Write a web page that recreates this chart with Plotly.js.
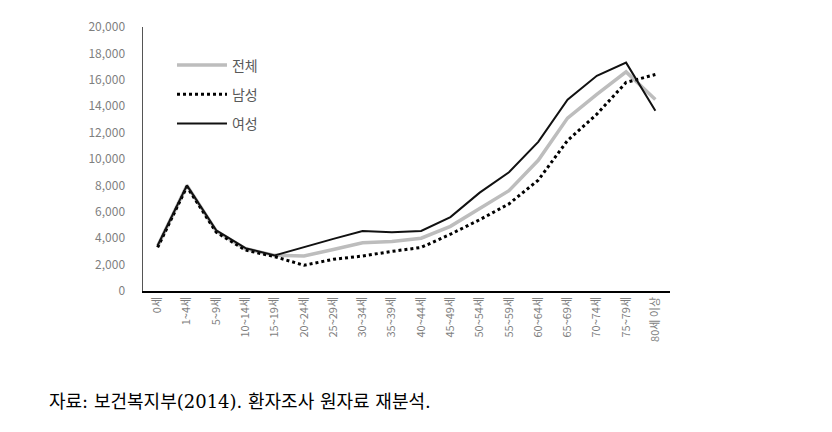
<!DOCTYPE html>
<html>
<head>
<meta charset="utf-8">
<script src="https://cdn.plot.ly/plotly-3.0.1.min.js"></script>
<style>
  body { margin: 0; background: #fff; }
  #plot { width: 832px; height: 432px; }
</style>
</head>
<body>
<div id="plot"></div>
<script>
// age groups
var ageGroups = ["0세", "1~4세", "5~9세", "10~14세", "15~19세", "20~24세", "25~29세",
  "30~34세", "35~39세", "40~44세", "45~49세", "50~54세", "55~59세", "60~64세",
  "65~69세", "70~74세", "75~79세", "80세 이상"];

// values
var totalVals = [3400, 8000, 4550, 3200, 2700, 2650, 3150, 3650, 3750, 4000,
  4900, 6250, 7600, 9900, 13100, 14900, 16600, 14500];
var maleVals = [3300, 7900, 4450, 3100, 2600, 1950, 2400, 2650, 3000, 3300,
  4300, 5400, 6600, 8400, 11400, 13400, 15800, 16400];
var femaleVals = [3450, 8000, 4600, 3250, 2700, 3350, 3950, 4550, 4450, 4550,
  5600, 7450, 9000, 11300, 14500, 16300, 17300, 13650];

var caption = "자료: 보건복지부(2014). 환자조사 원자료 재분석.";

var font = "Noto Sans CJK KR, Noto Sans, sans-serif";

var total = {
  x: ageGroups, y: totalVals, name: "전체", type: "scatter", mode: "lines",
  line: {color: "#bdbdbd", width: 3.5}, legendgroup: "a"
};
var male = {
  x: ageGroups, y: maleVals, name: "남성", type: "scatter", mode: "lines",
  line: {color: "#000", width: 3, dash: "dot"}, legendgroup: "b"
};
var female = {
  x: ageGroups, y: femaleVals, name: "여성", type: "scatter", mode: "lines",
  line: {color: "#111", width: 2}, legendgroup: "c"
};

var layout = {
  width: 832, height: 432,
  margin: {l: 143, r: 162, t: 27, b: 141},
  paper_bgcolor: "#fff", plot_bgcolor: "#fff",
  font: {family: font, color: "#595959"},
  showlegend: true,
  legend: {
    x: 0.055, y: 0.915, xanchor: "left", yanchor: "top",
    bgcolor: "rgba(0,0,0,0)", font: {size: 14, color: "#595959"},
    traceorder: "grouped", tracegroupgap: 8, itemwidth: 50
  },
  xaxis: {
    type: "category", range: [-0.5, 17.5],
    showline: true, linecolor: "#000", linewidth: 1.5,
    showgrid: false, ticks: "", tickangle: -90,
    tickfont: {size: 11, color: "#7f7f7f"}, zeroline: false
  },
  yaxis: {
    range: [0, 20000], dtick: 2000, tickformat: ",d",
    showline: true, linecolor: "#555", linewidth: 1.5,
    showgrid: false, ticks: "", zeroline: false,
    tickfont: {size: 12, color: "#7f7f7f"}, ticklabelstandoff: 14
  },
  annotations: [{
    text: caption, xref: "paper", yref: "paper",
    x: -0.182, y: -0.42, xanchor: "left", yanchor: "middle",
    showarrow: false,
    font: {size: 18, color: "#000", family: "DejaVu Serif, Noto Sans CJK KR, serif"}
  }]
};

Plotly.newPlot("plot", [total, male, female], layout, {displayModeBar: false, staticPlot: true});
</script>
</body>
</html>
